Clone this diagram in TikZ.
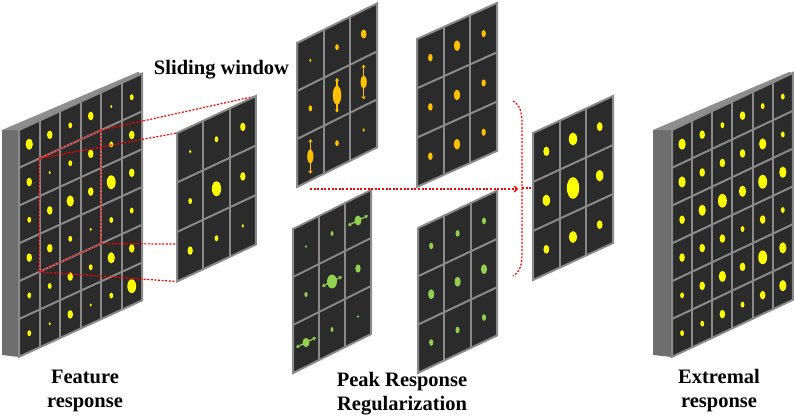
\documentclass[tikz,border=0pt]{standalone}
\usepackage{fontspec}
\setmainfont{Liberation Serif}
\usetikzlibrary{arrows.meta}

\definecolor{cellfill}{HTML}{2B2B2B}
\definecolor{gridgray}{HTML}{8A8A8A}
\definecolor{slabside}{HTML}{6E6E6E}
\definecolor{slabtop}{HTML}{8E8E8E}
\definecolor{spotyellow}{HTML}{FFFF00}
\definecolor{spotorange}{HTML}{FFC000}
\definecolor{spotgreen}{HTML}{92D050}

\tikzset{
  gridline/.style={draw=gridgray, line width=2pt},
  reddash/.style={draw=red, line width=1.2pt, dash pattern=on 2pt off 1.6pt},
  stretch/.style={line width=1.2pt, {Stealth[length=3pt,width=4.4pt]}-{Stealth[length=3pt,width=4.4pt]}},
  caption/.style={font=\fontsize{20.5}{24}\selectfont\bfseries, align=center, anchor=base, inner sep=0pt},
  grid at/.style n args={3}{shift={#1}, x={#2}, y={(0pt,-#3)}}
}

% skewed n x n grid in the current scope, corners named <name>-tl etc.
\newcommand{\cellgrid}[2]{%
  \fill[cellfill] (0,0) -- (#2,0) -- (#2,#2) -- (0,#2) -- cycle;
  \pgfmathtruncatemacro\nlast{#2-1}
  \foreach \k in {1,...,\nlast} {
    \draw[gridline] (\k,0) -- (\k,#2);
    \draw[gridline] (0,\k) -- (#2,\k);
  }
  \draw[gridline] (0,0) -- (#2,0) -- (#2,#2) -- (0,#2) -- cycle;
  \coordinate (#1-tl) at (0,0);
  \coordinate (#1-tr) at (#2,0);
  \coordinate (#1-br) at (#2,#2);
  \coordinate (#1-bl) at (0,#2);
}
\newcommand{\spots}[2]{%
  \foreach \col/\rw/\rx/\ry in {#2} {
    \pgfmathsetmacro\sx{1.15*\rx}
    \pgfmathsetmacro\sy{1.15*\ry}
    \fill[#1] (\col+.5,\rw+.5) ellipse [x radius=\sx pt, y radius=\sy pt];
  }
}
\newcommand{\spotrows}[2]{%
  \foreach \row [count=\rw from 0] in {#2}
    \foreach \s [count=\col from 0] in \row {
      \pgfmathsetmacro\sx{0.2+0.85*\s}
      \pgfmathsetmacro\sy{1.55*\sx}
      \fill[#1] (\col+.5,\rw+.5) ellipse [x radius=\sx pt, y radius=\sy pt];
    }
}

\begin{document}
\begin{tikzpicture}[x=1pt, y=-1pt]
  \useasboundingbox (0,0) rectangle (794,417);

  % feature response
  \fill[slabside] (2,130) -- (19,130) -- (19,357) -- (2,355) -- cycle;
  \fill[slabtop] (2,130) -- (138,72) -- (142,74) -- (19,130) -- cycle;
  \begin{scope}[grid at={(19,130)}{(20.5pt,9.4pt)}{37.8pt}]
    \cellgrid{feat}{6}
    \spotrows{spotyellow}{{4,3,2,3,1,2},{3,1,2,3,2,3},{2,3,4,3,5,3},
      {3,3,2,1,2,2},{2,2,3,2,4,3},{2,1,3,1,2,5}}
    \coordinate (feat-a) at (1,1);
    \coordinate (feat-b) at (4,1);
    \coordinate (feat-c) at (4,4);
    \coordinate (feat-d) at (1,4);
  \end{scope}

  % extremal response
  \fill[slabside] (653,130) -- (672,130) -- (672,357) -- (653,355) -- cycle;
  \fill[slabtop] (653,130) -- (789,72) -- (793,73) -- (672,130) -- cycle;
  \begin{scope}[grid at={(672,130)}{(20.15pt,9.5pt)}{37.8pt}]
    \cellgrid{ext}{6}
    \spotrows{spotyellow}{{4,3,2,3,2,2},{4,3,3,3,4,2},{3,4,5,4,5,4},
      {3,3,3,2,3,2},{2,3,4,3,5,4},{2,2,3,2,3,4}}
  \end{scope}

  % sliding window
  \begin{scope}[grid at={(177,133)}{(26.33pt,12.33pt)}{49.5pt}]
    \coordinate (win-tl) at (0,0);
    \coordinate (win-tr) at (3,0);
    \coordinate (win-br) at (3,3);
    \coordinate (win-bl) at (0,3);
  \end{scope}
  \draw[reddash] (feat-a) -- (feat-b) -- (feat-c) -- (feat-d) -- cycle;
  \draw[reddash] (feat-a) -- (win-tl);
  \draw[reddash] (feat-b) -- (win-tr);
  \draw[reddash] (feat-c) -- (win-br);
  \draw[reddash] (feat-d) -- (win-bl);
  \begin{scope}[grid at={(177,133)}{(26.33pt,12.33pt)}{49.5pt}]
    \cellgrid{win}{3}
    \spots{spotyellow}{0/0/1/1.6, 1/0/1.6/2.6, 2/0/2.3/3.7, 0/1/1.6/2.6, 1/1/4/6.5,
      2/1/2.3/3.7, 0/2/2.3/3.7, 1/2/1.6/2.6, 2/2/1/1.6}
  \end{scope}

  % peak response regularization
  \begin{scope}[grid at={(297,43)}{(26.67pt,13.2pt)}{48pt}]
    \cellgrid{orv}{3}
    \spots{spotorange}{0/0/1/1.6, 1/0/1.6/2.6, 2/0/2.5/3.9, 0/1/1.6/2.6, 1/1/3.7/8.3,
      2/1/2.7/5.7, 0/2/2.7/6, 1/2/1.6/2.6, 2/2/1/1.6}
    \foreach \col/\rw in {1/1, 2/1, 0/2}
      \draw[stretch, spotorange] (\col+.5,\rw+.14) -- (\col+.5,\rw+.86);
  \end{scope}
  \begin{scope}[grid at={(417,39)}{(26.67pt,12pt)}{49.3pt}]
    \cellgrid{orm}{3}
    \spots{spotorange}{0/0/2/3.3, 1/0/2.8/4.6, 2/0/1.9/3.1, 0/1/2/3.3, 1/1/2.8/4.6,
      2/1/1.9/3.1, 0/2/2/3.3, 1/2/2.8/4.6, 2/2/1.9/3.1}
  \end{scope}
  \begin{scope}[grid at={(293,229)}{(26pt,13pt)}{48pt}]
    \cellgrid{grh}{3}
    \spots{spotgreen}{0/0/0.8/1.3, 1/0/1.3/2.1, 2/0/3/4.3, 0/1/1.4/2.2, 1/1/4.3/6,
      2/1/2.3/3.6, 0/2/3/4, 1/2/1.3/2.1, 2/2/0.8/1.3}
    \foreach \col/\rw in {2/0, 1/1, 0/2}
      \draw[stretch, spotgreen] (\col+.12,\rw+.5) -- (\col+.88,\rw+.5);
  \end{scope}
  \begin{scope}[grid at={(418,228)}{(26.4pt,12.5pt)}{48.3pt}]
    \cellgrid{grm}{3}
    \spots{spotgreen}{0/0/1.8/2.9, 1/0/1.8/2.9, 2/0/1.8/2.9, 0/1/2.7/4.3, 1/1/2.7/4.3,
      2/1/2.7/4.3, 0/2/1.8/2.9, 1/2/1.8/2.9, 2/2/1.8/2.9}
  \end{scope}

  % fused result
  \begin{scope}[grid at={(533,133)}{(26.67pt,12.33pt)}{49pt}]
    \cellgrid{fin}{3}
    \spots{spotyellow}{0/0/2.6/4.1, 1/0/3.6/5.6, 2/0/2.5/3.9, 0/1/3.2/5, 1/1/5.4/9.4,
      2/1/3.2/5, 0/2/2.5/3.8, 1/2/3.4/5.2, 2/2/2.5/3.8}
  \end{scope}

  \coordinate (split) at (310,189);
  \coordinate (brace-tip) at (522,188);
  \coordinate (fin-hook) at (532,188);
  \draw[reddash, -{Straight Barb[length=3pt,width=6pt]}] (split) -- ([xshift=-4pt]brace-tip |- split);
  \draw[reddash] (513,101) .. controls (520,105) and (522,112) .. (522,124)
    -- (522,253) .. controls (522,265) and (520,272) .. (513,276);
  \draw[reddash] (brace-tip) -- (fin-hook);

  \node[caption] (cap-win) at (221.5,75) {Sliding window};
  \node[caption] (cap-feat) at (85,407) {Feature\\response};
  \node[caption] (cap-prr) at (402,410) {Peak Response\\Regularization};
  \node[caption] (cap-ext) at (719,407) {Extremal\\response};
\end{tikzpicture}
\end{document}
